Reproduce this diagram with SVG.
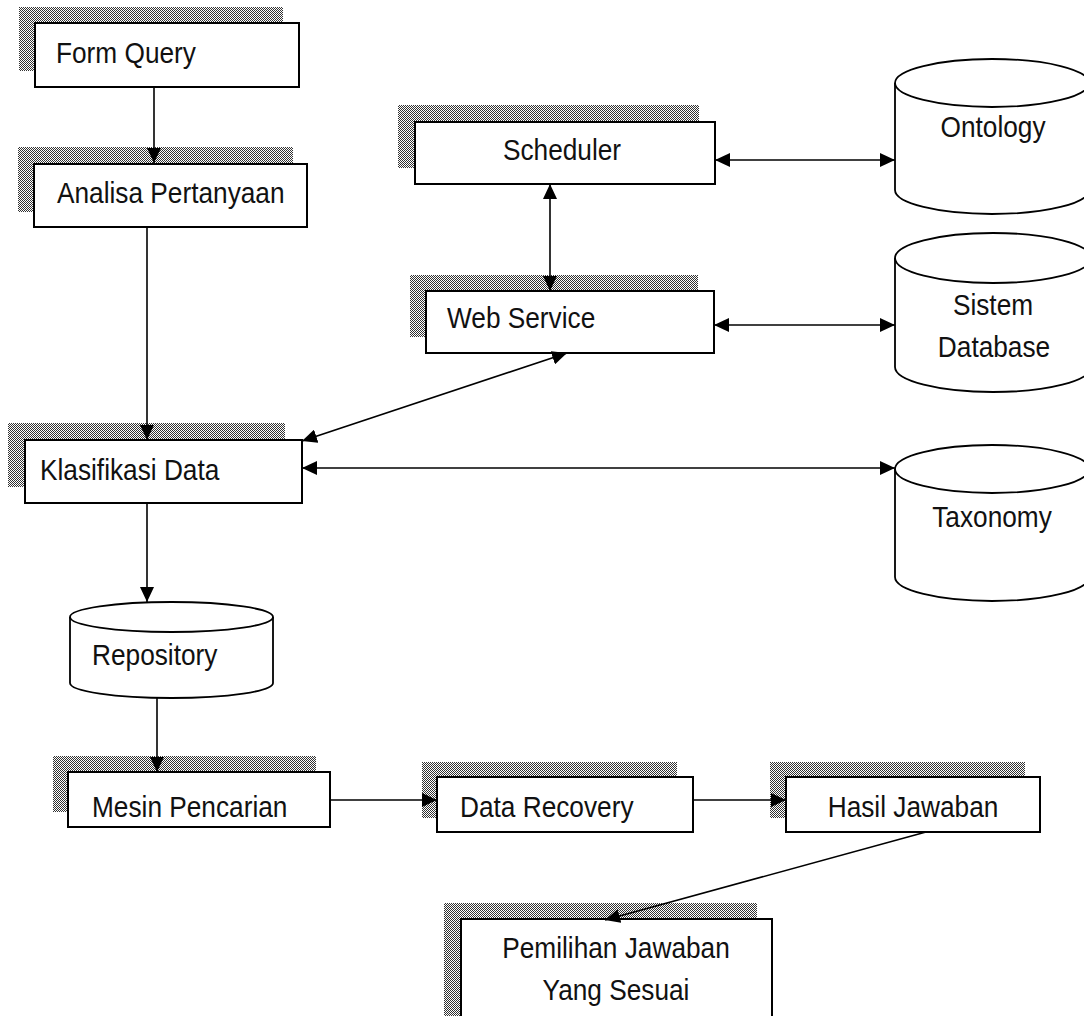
<svg xmlns="http://www.w3.org/2000/svg" width="1084" height="1016" viewBox="0 0 1084 1016">
<style>
.sh{fill:url(#dots);shape-rendering:crispEdges;}
.bx{fill:#fff;stroke:#000;stroke-width:2;}
.cy{fill:#fff;stroke:#000;stroke-width:1.8;}
.cl{fill:none;stroke:#000;stroke-width:1.8;}
.t{font-family:"Liberation Sans",Arial,sans-serif;font-size:30px;fill:#111;}
.m{text-anchor:middle;}
.cn{fill:none;stroke:#000;stroke-width:1.6;}
</style>
<defs>
<pattern id="dots" x="0" y="0" width="2" height="2" patternUnits="userSpaceOnUse">
<rect width="2" height="2" fill="#fff" shape-rendering="crispEdges"/>
<rect width="1" height="1" fill="#333" shape-rendering="crispEdges"/>
<rect x="1" y="1" width="1" height="1" fill="#333" shape-rendering="crispEdges"/>
</pattern>
<marker id="ah" markerUnits="userSpaceOnUse" markerWidth="15" markerHeight="14" refX="15" refY="7" orient="auto-start-reverse" viewBox="0 0 15 14">
<path d="M0,0 L15,7 L0,14 z" fill="#000"/>
</marker>
</defs>

<g id="formQuery">
<rect class="sh" x="19" y="7" width="264" height="64"/>
<rect class="bx" x="35" y="23" width="264" height="64"/>
<text class="t" transform="translate(56 63) scale(0.875 1)">Form Query</text>
</g>
<g id="analisaPertanyaan">
<rect class="sh" x="18" y="147" width="275" height="65"/>
<rect class="bx" x="34" y="164" width="273" height="63"/>
<text class="t" transform="translate(57 203) scale(0.875 1)">Analisa Pertanyaan</text>
</g>
<g id="klasifikasiData">
<rect class="sh" x="8" y="423" width="277" height="64"/>
<rect class="bx" x="25" y="440" width="277" height="63"/>
<text class="t" transform="translate(40 480) scale(0.875 1)">Klasifikasi Data</text>
</g>
<g id="repository">
<path class="cy" d="M70,617 A101.5,15 0 0 1 273,617 V683 A101.5,15 0 0 1 70,683 Z"/>
<path class="cl" d="M70,617 A101.5,15 0 0 0 273,617"/>
<text class="t" transform="translate(92 665) scale(0.875 1)">Repository</text>
</g>
<g id="mesinPencarian">
<rect class="sh" x="53" y="756" width="263" height="56"/>
<rect class="bx" x="68" y="772" width="262" height="55"/>
<text class="t" transform="translate(92 817) scale(0.875 1)">Mesin Pencarian</text>
</g>
<g id="dataRecovery">
<rect class="sh" x="422" y="762" width="255" height="56"/>
<rect class="bx" x="437" y="777" width="256" height="55"/>
<text class="t" transform="translate(460 817) scale(0.875 1)">Data Recovery</text>
</g>
<g id="hasilJawaban">
<rect class="sh" x="770" y="762" width="255" height="56"/>
<rect class="bx" x="786" y="777" width="254" height="55"/>
<text class="t m" transform="translate(913 817) scale(0.875 1)">Hasil Jawaban</text>
</g>
<g id="pemilihanJawaban">
<rect class="sh" x="444" y="903" width="313" height="120"/>
<rect class="bx" x="461" y="919" width="311" height="110"/>
<text class="t m" transform="translate(616 958) scale(0.875 1)">Pemilihan Jawaban</text>
<text class="t m" transform="translate(616 1000) scale(0.875 1)">Yang Sesuai</text>
</g>
<g id="scheduler">
<rect class="sh" x="398" y="105" width="301" height="63"/>
<rect class="bx" x="415" y="122" width="300" height="62"/>
<text class="t m" transform="translate(562 160) scale(0.875 1)">Scheduler</text>
</g>
<g id="webService">
<rect class="sh" x="410" y="275" width="288" height="62"/>
<rect class="bx" x="426" y="291" width="288" height="62"/>
<text class="t" transform="translate(447 328) scale(0.875 1)">Web Service</text>
</g>
<g id="ontology">
<path class="cy" d="M895,83 A97,24 0 0 1 1089,83 V190 A97,24 0 0 1 895,190 Z"/>
<path class="cl" d="M895,83 A97,24 0 0 0 1089,83"/>
<text class="t m" transform="translate(993 137) scale(0.875 1)">Ontology</text>
</g>
<g id="sistemDatabase">
<path class="cy" d="M895,258 A98,25 0 0 1 1091,258 V367 A98,25 0 0 1 895,367 Z"/>
<path class="cl" d="M895,258 A98,25 0 0 0 1091,258"/>
<text class="t m" transform="translate(993 315) scale(0.875 1)">Sistem</text>
<text class="t m" transform="translate(994 357) scale(0.875 1)">Database</text>
</g>
<g id="taxonomy">
<path class="cy" d="M895,469 A97,24 0 0 1 1089,469 V577 A97,24 0 0 1 895,577 Z"/>
<path class="cl" d="M895,469 A97,24 0 0 0 1089,469"/>
<text class="t m" transform="translate(992 527) scale(0.875 1)">Taxonomy</text>
</g>

<g id="connectors">
<path class="cn" d="M154,87 V163" marker-end="url(#ah)"/>
<path class="cn" d="M147,227 V440" marker-end="url(#ah)"/>
<path class="cn" d="M147,503 V602" marker-end="url(#ah)"/>
<path class="cn" d="M157,698 V772" marker-end="url(#ah)"/>
<path class="cn" d="M330,800 H437" marker-end="url(#ah)"/>
<path class="cn" d="M693,800 H786" marker-end="url(#ah)"/>
<path class="cn" d="M926,832 L605,920" marker-end="url(#ah)"/>
<path class="cn" d="M715,160 H895" marker-start="url(#ah)" marker-end="url(#ah)"/>
<path class="cn" d="M550,184 V291" marker-start="url(#ah)" marker-end="url(#ah)"/>
<path class="cn" d="M714,325 H895" marker-start="url(#ah)" marker-end="url(#ah)"/>
<path class="cn" d="M302,441 L567,353" marker-start="url(#ah)" marker-end="url(#ah)"/>
<path class="cn" d="M302,468 H895" marker-start="url(#ah)" marker-end="url(#ah)"/>
</g>
</svg>
